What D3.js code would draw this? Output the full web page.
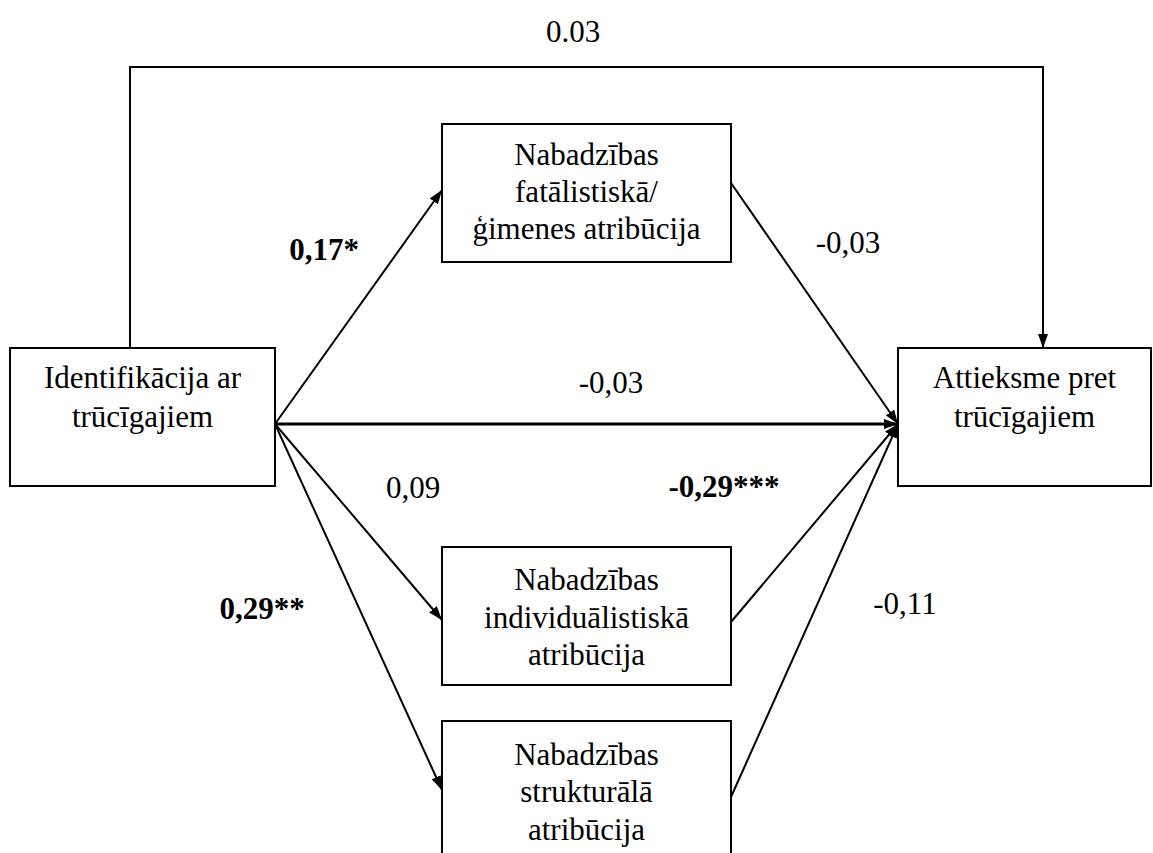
<!DOCTYPE html>
<html><head><meta charset="utf-8">
<script src="https://cdn.jsdelivr.net/npm/d3@7"></script>
<style>body{margin:0;background:#fff}svg{display:block}</style>
</head><body>
<svg id="c" width="1153" height="853"></svg>
<script>
// ---- data ----
const nodeIds = ["id", "fat", "ind", "str", "att"];
const nodeLabels = [
  ["Identifikācija ar", "trūcīgajiem"],
  ["Nabadzības", "fatālistiskā/", "ģimenes atribūcija"],
  ["Nabadzības", "individuālistiskā", "atribūcija"],
  ["Nabadzības", "strukturālā", "atribūcija"],
  ["Attieksme pret", "trūcīgajiem"]
];
const pathFrom = ["id", "id", "id", "fat", "ind", "str", "id"];
const pathTo   = ["fat", "ind", "str", "att", "att", "att", "att"];
const pathCoef = ["0,17*", "0,09", "0,29**", "-0,03", "-0,29***", "-0,11", "-0,03"];
const pathSig  = [true, false, true, false, true, false, false];
const directTotalLabel = "0.03";

// ---- layout (positions/styles) ----
const W = 1153, H = 853;
const svg = d3.select("#c");
const x = d3.scaleLinear().domain([0, 1153]).range([0, W]);
const y = d3.scaleLinear().domain([0, 853]).range([0, H]);
const box = {
  id:  {x0: 10,  x1: 275,  y0: 348, y1: 486, ty: [388, 427]},
  fat: {x0: 442, x1: 731,  y0: 124, y1: 262, ty: [165, 202, 239]},
  ind: {x0: 442, x1: 731,  y0: 547, y1: 685, ty: [590, 628, 665]},
  str: {x0: 442, x1: 731,  y0: 721, y1: 900, ty: [765, 802, 840]},
  att: {x0: 898, x1: 1151, y0: 348, y1: 486, ty: [388, 427]}
};
const anchor = {
  "id>fat": [[275, 424], [442, 190]],
  "id>ind": [[275, 424], [442, 620]],
  "id>str": [[275, 424], [442, 790]],
  "fat>att": [[731, 183], [898, 424]],
  "ind>att": [[731, 622], [898, 424]],
  "str>att": [[731, 797], [898, 424]],
  "id>att": [[275, 424], [898, 424]]
};
const labelPos = {
  "id>fat": [324, 260], "id>ind": [413, 498], "id>str": [262, 619],
  "fat>att": [848, 253], "ind>att": [724, 497], "str>att": [905, 614],
  "id>att": [611, 393]
};
const font = "'Liberation Serif','Times New Roman',serif";
const fs = 31;

svg.append("defs").append("marker")
  .attr("id", "ah").attr("viewBox", "0 0 14 10")
  .attr("refX", 14).attr("refY", 5)
  .attr("markerWidth", 14).attr("markerHeight", 10)
  .attr("markerUnits", "userSpaceOnUse").attr("orient", "auto")
  .append("path").attr("d", "M0,0 L14,5 L0,10 Z").attr("fill", "#000");

// boxes
nodeIds.forEach((id, i) => {
  const b = box[id];
  svg.append("rect")
    .attr("x", x(b.x0)).attr("y", y(b.y0))
    .attr("width", x(b.x1) - x(b.x0)).attr("height", y(b.y1) - y(b.y0))
    .attr("fill", "#fff").attr("stroke", "#000").attr("stroke-width", 2);
  nodeLabels[i].forEach((t, j) => {
    svg.append("text")
      .attr("x", x((b.x0 + b.x1) / 2)).attr("y", y(b.ty[j]))
      .attr("text-anchor", "middle")
      .attr("font-family", font).attr("font-size", fs).text(t);
  });
});

// paths
pathFrom.forEach((f, i) => {
  const k = f + ">" + pathTo[i];
  const [[ax, ay], [bx, by]] = anchor[k];
  svg.append("line")
    .attr("x1", x(ax)).attr("y1", y(ay)).attr("x2", x(bx)).attr("y2", y(by))
    .attr("stroke", "#000").attr("stroke-width", k === "id>att" ? 3 : 2)
    .attr("marker-end", "url(#ah)");
  const lp = labelPos[k];
  svg.append("text")
    .attr("x", x(lp[0])).attr("y", y(lp[1]))
    .attr("text-anchor", "middle")
    .attr("font-family", font).attr("font-size", fs)
    .attr("font-weight", pathSig[i] ? "bold" : "normal")
    .text(pathCoef[i]);
});

// total effect path (over the top)
const topPath = d3.path();
topPath.moveTo(x(130), y(348));
topPath.lineTo(x(130), y(67));
topPath.lineTo(x(1043), y(67));
topPath.lineTo(x(1043), y(348));
svg.append("path").attr("d", topPath.toString())
  .attr("fill", "none").attr("stroke", "#000").attr("stroke-width", 2)
  .attr("marker-end", "url(#ah)");
svg.append("text")
  .attr("x", x(573)).attr("y", y(42)).attr("text-anchor", "middle")
  .attr("font-family", font).attr("font-size", fs).text(directTotalLabel);
</script>
</body></html>
